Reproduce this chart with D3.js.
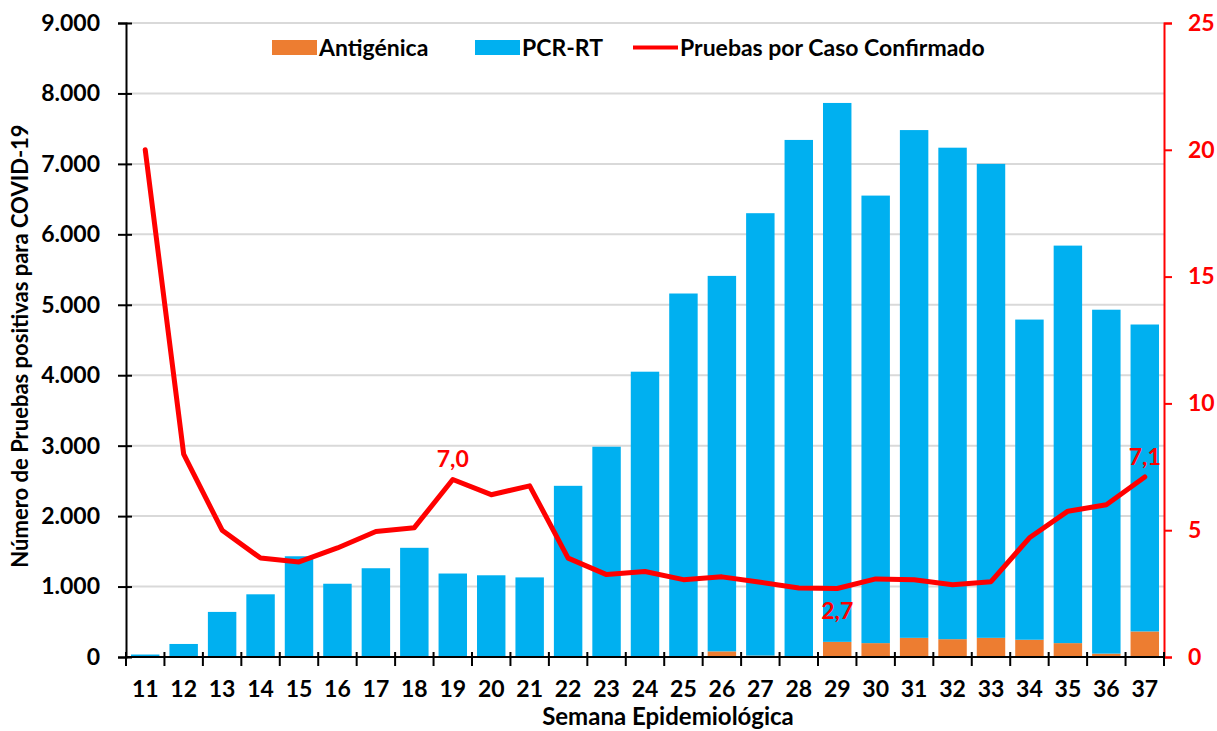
<!DOCTYPE html>
<html>
<head>
<meta charset="utf-8">
<script src="https://cdn.jsdelivr.net/npm/d3@7"></script>
<style>
  html, body { margin: 0; padding: 0; background: #fff; }
  svg { display: block; }
</style>
</head>
<body>
<div id="chart"></div>
<script>
const semanas = ["11","12","13","14","15","16","17","18","19","20","21","22","23","24","25","26","27","28","29","30","31","32","33","34","35","36","37"];
const totalPositivas = [35,185,640,890,1430,1040,1260,1550,1185,1160,1130,2430,2985,4050,5160,5410,6300,7340,7865,6550,7480,7230,7000,4790,5840,4930,4720];
const antigenica = [0,0,0,0,0,0,0,0,0,0,0,0,0,0,0,80,20,0,215,197,272,253,272,245,197,48,363];
const pcr = totalPositivas.map((t, i) => t - antigenica[i]);
const pruebasPorCaso = [20.0,8.0,5.0,3.9,3.75,4.3,4.95,5.1,7.0,6.4,6.75,3.9,3.25,3.37,3.05,3.16,2.95,2.72,2.7,3.08,3.05,2.85,2.97,4.7,5.75,6.0,7.1];
const leftTicks = [0,1000,2000,3000,4000,5000,6000,7000,8000,9000];
const rightTicks = [0,5,10,15,20,25];
const etiquetas = [{i: 8, text: "7,0", pos: "above"}, {i: 18, text: "2,7", pos: "below"}, {i: 26, text: "7,1", pos: "above"}];

const W = 1217, H = 731;
const margin = { top: 23, right: 53, bottom: 74, left: 126 };
const width = W - margin.left - margin.right;
const height = H - margin.top - margin.bottom;

const svg = d3.select("#chart").append("svg")
  .attr("width", W).attr("height", H);
const g = svg.append("g").attr("transform", `translate(${margin.left},${margin.top})`);

const locale = d3.formatLocale({ decimal: ",", thousands: ".", grouping: [3], currency: ["", ""] });
const fmt = locale.format(",d");

const x = d3.scaleBand().domain(semanas).range([0, width]).padding(0);
const y = d3.scaleLinear().domain([0, 9000]).range([height, 0]);
const y2 = d3.scaleLinear().domain([0, 25]).range([height, 0]);

const barW = x.bandwidth() * 0.74;
const font = "Lato, 'Open Sans', sans-serif";

// grid
g.append("g").selectAll("line").data(leftTicks.filter(d => d > 0)).join("line")
  .attr("x1", 0).attr("x2", width)
  .attr("y1", d => y(d)).attr("y2", d => y(d))
  .attr("stroke", "#d9d9d9").attr("stroke-width", 2);

// stacked bars
const stack = d3.stack().keys(["antigenica", "pcr"]);
const rows = semanas.map((s, i) => ({ semana: s, antigenica: antigenica[i], pcr: pcr[i] }));
const series = stack(rows);
const colors = { antigenica: "#ED7D31", pcr: "#00B0F0" };
g.append("g").selectAll("g").data(series).join("g")
  .attr("fill", d => colors[d.key])
  .selectAll("rect").data(d => d).join("rect")
  .attr("x", d => x(d.data.semana) + (x.bandwidth() - barW) / 2)
  .attr("width", barW)
  .attr("y", d => y(d[1]))
  .attr("height", d => y(d[0]) - y(d[1]));

// left axis
const axL = g.append("g").call(d3.axisLeft(y).tickValues(leftTicks).tickFormat(fmt).tickSize(8).tickPadding(18));
axL.select(".domain").attr("stroke", "#000").attr("stroke-width", 2);
axL.selectAll(".tick line").attr("stroke", "#000").attr("stroke-width", 2).attr("x2", -8).attr("x1", 6);
axL.selectAll("text").attr("font-family", font).attr("font-weight", "bold").attr("font-size", 23).attr("fill", "#000");

// right axis
const axR = g.append("g").attr("transform", `translate(${width},0)`)
  .call(d3.axisRight(y2).tickValues(rightTicks).tickSize(8).tickPadding(16));
axR.select(".domain").attr("stroke", "#f00").attr("stroke-width", 2);
axR.selectAll(".tick line").attr("stroke", "#f00").attr("stroke-width", 2);
axR.selectAll("text").attr("font-family", font).attr("font-weight", "bold").attr("font-size", 23).attr("fill", "#f00");

// bottom axis
const axB = g.append("g").attr("transform", `translate(0,${height})`)
  .call(d3.axisBottom(x).tickSize(0).tickPadding(24));
axB.select(".domain").remove();
axB.selectAll("text").attr("font-family", font).attr("font-weight", "bold").attr("font-size", 23).attr("fill", "#000");
g.append("line").attr("x1", 0).attr("x2", width).attr("y1", height).attr("y2", height)
  .attr("stroke", "#000").attr("stroke-width", 2);
g.append("g").selectAll("line").data(semanas.concat(["_end"])).join("line")
  .attr("x1", (d, i) => i * x.step()).attr("x2", (d, i) => i * x.step())
  .attr("y1", height - 5).attr("y2", height + 9)
  .attr("stroke", "#000").attr("stroke-width", 2);

// line
const line = d3.line()
  .x((d, i) => x(semanas[i]) + x.bandwidth() / 2)
  .y(d => y2(d));
g.append("path").datum(pruebasPorCaso)
  .attr("fill", "none").attr("stroke", "#f00").attr("stroke-width", 5)
  .attr("stroke-linejoin", "round").attr("stroke-linecap", "round").attr("d", line);

// data labels
g.append("g").selectAll("text").data(etiquetas).join("text")
  .attr("x", d => x(semanas[d.i]) + x.bandwidth() / 2)
  .attr("y", d => d.pos === "above" ? y2(pruebasPorCaso[d.i]) - 12 : y2(pruebasPorCaso[d.i]) + 30)
  .attr("text-anchor", "middle")
  .attr("font-family", font)
  .attr("font-weight", "bold").attr("font-size", 23)
  .attr("fill", "#f00").text(d => d.text);

// axis titles
svg.append("text")
  .attr("transform", `translate(28,${margin.top + height / 2 + 6}) rotate(-90)`)
  .attr("text-anchor", "middle").attr("font-family", font).attr("font-weight", "bold")
  .attr("font-size", 22).attr("fill", "#000")
  .text("Número de Pruebas positivas para COVID-19");
svg.append("text")
  .attr("x", 668).attr("y", 725)
  .attr("text-anchor", "middle").attr("font-family", font).attr("font-weight", "bold")
  .attr("font-size", 24).attr("fill", "#000")
  .text("Semana Epidemiológica");

// legend
const legend = svg.append("g").attr("font-family", font).attr("font-weight", "bold").attr("font-size", 23);
const legItems = [
  { label: "Antigénica", type: "rect", color: colors.antigenica, x: 272 },
  { label: "PCR-RT", type: "rect", color: colors.pcr, x: 475 },
  { label: "Pruebas por Caso Confirmado", type: "line", color: "#f00", x: 633 }
];
legItems.forEach(it => {
  if (it.type === "rect") {
    legend.append("rect").attr("x", it.x).attr("y", 40).attr("width", 45).attr("height", 15).attr("fill", it.color);
  } else {
    legend.append("line").attr("x1", it.x).attr("x2", it.x + 45).attr("y1", 47.5).attr("y2", 47.5)
      .attr("stroke", it.color).attr("stroke-width", 4);
  }
  legend.append("text").attr("x", it.x + 47).attr("y", 56).attr("fill", "#000").text(it.label);
});
</script>
</body>
</html>
